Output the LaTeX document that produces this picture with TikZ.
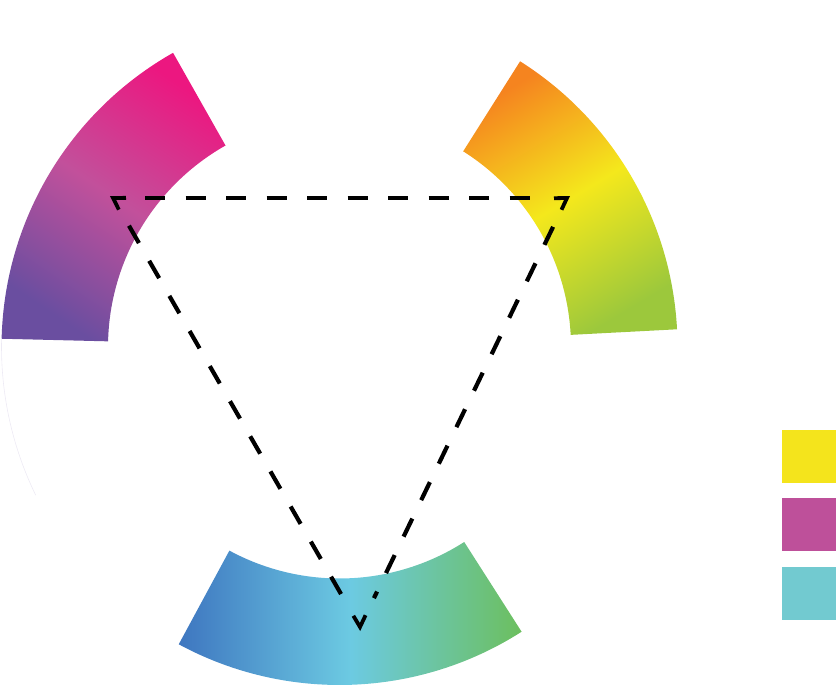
\documentclass[tikz,border=0pt]{standalone}
\usetikzlibrary{calc}
\definecolor{wpink}{HTML}{EC1780}
\definecolor{wmagenta}{HTML}{C2509B}
\definecolor{wpurple}{HTML}{6A4EA0}
\definecolor{worange}{HTML}{F5841F}
\definecolor{wyellow}{HTML}{F4E81C}
\definecolor{wlime}{HTML}{9CC83C}
\definecolor{wblue}{HTML}{3E76C0}
\definecolor{wsky}{HTML}{6CCAE2}
\definecolor{wgreen}{HTML}{6CBF5E}
\definecolor{swyellow}{HTML}{F4E41C}
\definecolor{swmagenta}{HTML}{BE509A}
\definecolor{swcyan}{HTML}{72CAD0}
\begin{document}
\begin{tikzpicture}[x=1pt,y=1pt,
  band/.style 2 args={insert path={(#1:338pt) arc[start angle=#1,end angle=#2,radius=338pt]
    -- (#2:231.5pt) arc[start angle=#2,end angle=#1,radius=231.5pt] -- cycle}},
  dashline/.style={line width=4.2pt,dash pattern=on 20pt off 20.5pt,shorten <=32pt,shorten >=32pt},
  tipline/.style={line width=3.8pt,miter limit=10},
  swatch/.style={inner sep=0pt,minimum width=54pt,minimum height=53pt,anchor=north east}]
\useasboundingbox (0,0) rectangle (836,687);
\begin{scope}[shift={(339.5,340)}]
\shade[top color=wpink,bottom color=wpurple,middle color=wmagenta,shading angle=-34,band={119.5}{178.6}];
\shade[top color=worange,bottom color=wlime,middle color=wyellow,shading angle=31,band={3}{57.7}];
\shade[left color=wblue,right color=wgreen,middle color=wsky,band={241.6}{302.6}];
\draw[wpurple!12,line width=0.6pt] (178.6:338pt) arc[start angle=178.6,end angle=206,radius=338pt];
\end{scope}
\coordinate (A) at (113,489);
\coordinate (B) at (567,489);
\coordinate (C) at (360,60);
\coordinate (M) at (346.7,346);
\draw[dashline] (A) -- (B);
\draw[dashline] (A) -- (C);
\draw[dashline] (B) -- (C);
\foreach \v in {A,B}
  \draw[tipline] ($(\v)!13pt!32:(M)$) -- (\v) -- ($(\v)!13pt!-32:(M)$);
\draw[tipline] ($(C)!13pt!28:(M)$) -- (C) -- ($(C)!13pt!-28:(M)$);
\node[swatch,fill=swyellow] (yel) at (836,257) {};
\node[swatch,fill=swmagenta] (mag) at (836,189) {};
\node[swatch,fill=swcyan] (cya) at (836,120) {};
\end{tikzpicture}
\end{document}
